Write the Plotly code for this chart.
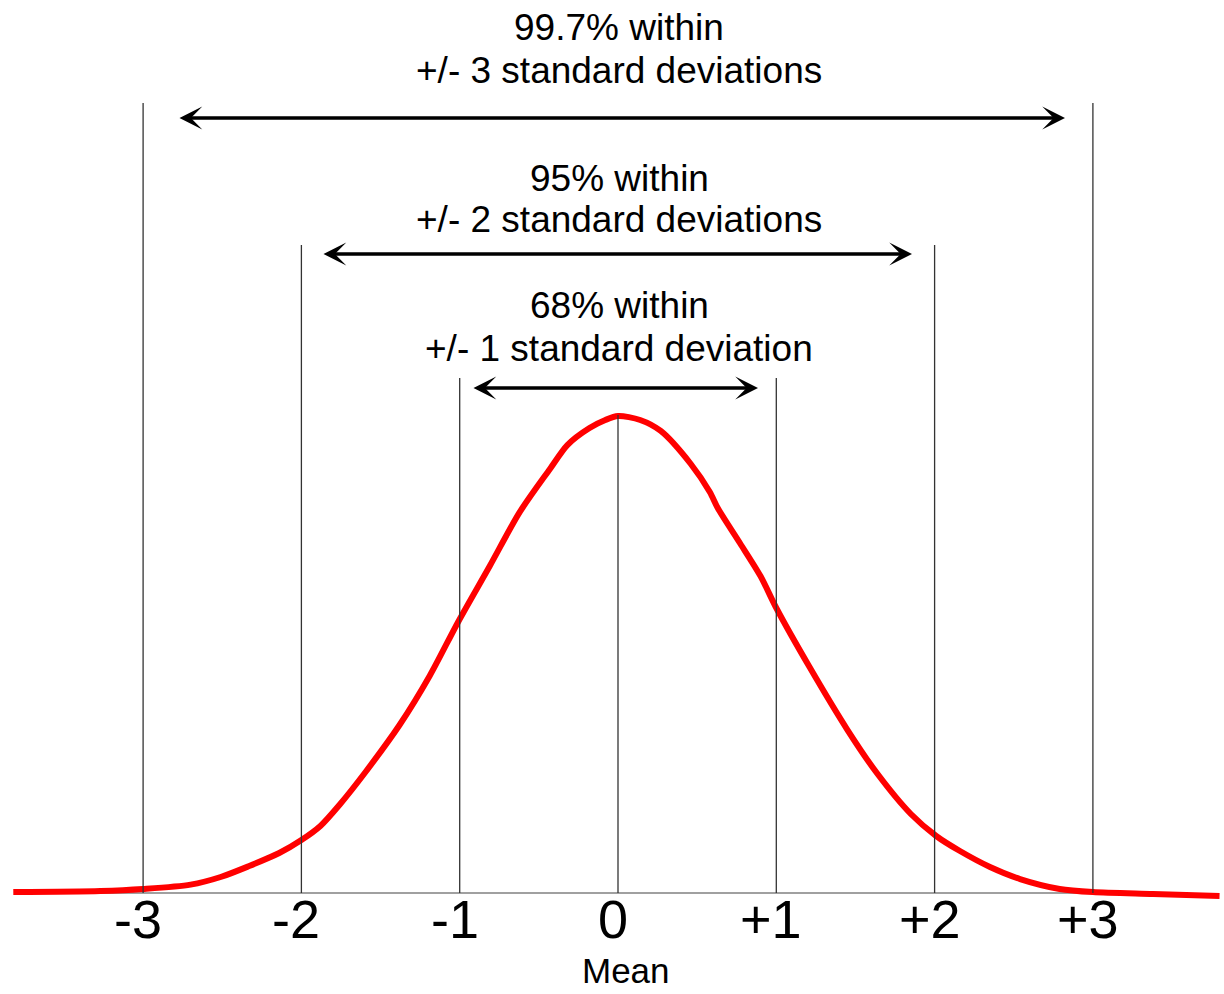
import plotly.graph_objects as go

# ---------------- data ----------------
# curve: x in standard deviations from the mean, y as density
curve_x = [-3.82, -3.27, -3.00, -2.70, -2.51, -2.33, -2.14, -2.00, -1.88, -1.76,
           -1.59, -1.38, -1.19, -1.01, -0.81, -0.62, -0.43, -0.32, -0.18, -0.08,
           0.00, 0.14, 0.27, 0.46, 0.58, 0.63, 0.77, 0.90, 1.00, 1.21,
           1.45, 1.64, 1.85, 2.01, 2.16, 2.35, 2.54, 2.79, 3.00, 3.38, 3.80]
curve_y = [0.0008, 0.0017, 0.0034, 0.0070, 0.0134, 0.0226, 0.0335, 0.0444, 0.0562, 0.0738,
           0.1023, 0.1408, 0.1819, 0.2272, 0.2741, 0.3194, 0.3554, 0.3755, 0.3898, 0.3965,
           0.3998, 0.3965, 0.3873, 0.3596, 0.3361, 0.3227, 0.2934, 0.2657, 0.2389, 0.1894,
           0.1366, 0.0997, 0.0662, 0.0478, 0.0352, 0.0218, 0.0117, 0.0034, 0.0008, -0.0008, -0.0025]

sd_ticks = [-3, -2, -1, 0, 1, 2, 3]
tick_labels = ["-3", "-2", "-1", "0", "+1", "+2", "+3"]

coverage_sd = [3, 2, 1]
coverage_pct = ["99.7%", "95%", "68%"]
axis_label = "Mean"

# ---------------- geometry helpers (pixel -> data) ----------------
W, H = 1224, 994
X0_PX, PX_PER_SD = 618, 158.3
BASE_PX, PEAK_PX, PEAK_Y = 893, 417, 0.399
Y_PER_PX = PEAK_Y / (BASE_PX - PEAK_PX)


def xd(px):
    return (px - X0_PX) / PX_PER_SD


def yd(py):
    return (BASE_PX - py) * Y_PER_PX


FONT = "Liberation Sans, Arial, sans-serif"

# vertical line tops (pixels), by |sd|
line_top_px = {3: 103, 2: 245, 1: 378, 0: 415}
# arrows: sd -> (y px, left px, right px)
arrow_px = {3: (118, 178, 1065), 2: (254, 322, 912), 1: (388, 472, 758)}
# text line centres (pixels): sd -> (line1, line2)
text_px = {3: (27, 70), 2: (178, 219), 1: (305, 348)}

fig = go.Figure()
fig.add_trace(go.Scatter(
    x=curve_x, y=curve_y, mode="lines",
    line=dict(color="#ff0000", width=6, shape="spline", smoothing=0.8),
    hoverinfo="skip", showlegend=False,
))

shapes = []
# baseline
shapes.append(dict(type="line", xref="x", yref="y", x0=xd(33), x1=xd(1157), y0=0, y1=0,
                   line=dict(color="#808080", width=1.5), layer="below"))
# vertical lines at each sd
for s in sd_ticks:
    shapes.append(dict(type="line", xref="x", yref="y", x0=s, x1=s, y0=0,
                       y1=yd(line_top_px[abs(s)]),
                       line=dict(color="#333333", width=1.3), layer="above"))

annotations = []
for s, pct in zip(coverage_sd, coverage_pct):
    ay_px, lpx, rpx = arrow_px[s]
    annotations.append(dict(
        x=xd(rpx), y=yd(ay_px), ax=xd(lpx), ay=yd(ay_px),
        xref="x", yref="y", axref="x", ayref="y", text="",
        showarrow=True, arrowside="end+start", arrowhead=3, startarrowhead=3,
        arrowsize=1.15, startarrowsize=1.15, arrowwidth=3.3, arrowcolor="black",
    ))
    l1, l2 = text_px[s]
    line2 = "+/- %d standard deviation%s" % (s, "s" if s > 1 else "")
    annotations.append(dict(x=xd(619), y=yd(l1), xref="x", yref="y", text=pct + " within",
                            showarrow=False, xanchor="center", yanchor="middle",
                            font=dict(family=FONT, size=37, color="black")))
    annotations.append(dict(x=xd(619), y=yd(l2), xref="x", yref="y", text=line2,
                            showarrow=False, xanchor="center", yanchor="middle",
                            font=dict(family=FONT, size=37, color="black")))

for s, lab in zip(sd_ticks, tick_labels):
    annotations.append(dict(x=s, y=yd(919), xref="x", yref="y", text=lab, xshift=-5,
                            showarrow=False, xanchor="center", yanchor="middle",
                            font=dict(family=FONT, size=54, color="black")))

annotations.append(dict(x=xd(626), y=yd(970), xref="x", yref="y", text=axis_label,
                        showarrow=False, xanchor="center", yanchor="middle",
                        borderpad=0,
                        font=dict(family=FONT, size=35, color="black")))

fig.update_layout(
    width=W, height=H, margin=dict(l=0, r=0, t=0, b=0, pad=0),
    paper_bgcolor="white", plot_bgcolor="white", showlegend=False,
    xaxis=dict(range=[xd(0), xd(W)], visible=False, fixedrange=True),
    yaxis=dict(range=[yd(H), yd(0)], visible=False, fixedrange=True),
    shapes=shapes, annotations=annotations,
)

fig.write_html("out.html", config={"displayModeBar": False},
               post_script="document.body.style.margin='0';")
